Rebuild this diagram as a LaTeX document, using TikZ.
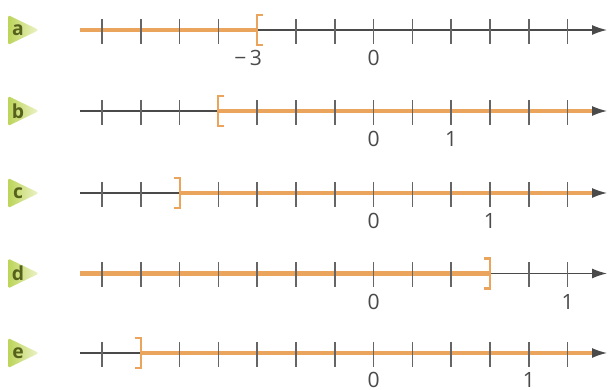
\documentclass[tikz,border=0pt]{standalone}
\usepackage{fontspec}
\setmainfont{Open Sans}
\usetikzlibrary{arrows.meta}
\definecolor{segorange}{HTML}{EBA45C}
\definecolor{badgedark}{HTML}{BCD45A}
\definecolor{badgelight}{HTML}{EDF3C8}
\definecolor{letterink}{HTML}{56621C}
\definecolor{axisink}{HTML}{4A4A4A}

\begin{document}
\begin{tikzpicture}[x=1cm,y=1cm,font=\fontsize{12}{14}\selectfont,
 axis/.style={-{Latex[length=3mm,width=2mm]},line width=.8pt,draw=axisink},
 seg/.style={line width=2.3pt,draw=segorange},
 tk/.style={line width=.8pt,draw=axisink!85},
 brk/.style={line width=1.2pt,draw=segorange},
 lab/.style={inner sep=1pt,text=axisink},
 letter/.style={font=\bfseries\fontsize{11}{13}\selectfont,text=letterink,inner sep=0pt}]
\useasboundingbox (0,0) rectangle (12.26,7.8);
% rows: badge, axis, tick positions
\foreach \r/\y in {a/7.2,b/5.58,c/3.94,d/2.33,e/0.74}{
 \shade[left color=badgedark,right color=badgelight,rounded corners=1pt]
  (0.16,\y+0.3) -- (0.78,\y) -- (0.16,\y-0.3) -- cycle;
 \node[letter] (let-\r) at (0.36,\y) {\r};
 \coordinate (\r-s) at (1.6,\y);
 \coordinate (\r-e) at (12.14,\y);
 \foreach \i in {0,...,12} \coordinate (\r-\i) at (2.04+0.776*\i,\y);
 \draw[axis] (\r-s) -- (\r-e);
}
% solution sets
\draw[seg] (a-s) -- (a-4);
\draw[seg] (b-3) -- ([xshift=-3mm]b-e);
\draw[seg] (c-2) -- ([xshift=-3mm]c-e);
\draw[seg] (d-s) -- (d-10);
\draw[seg] (e-1) -- ([xshift=-3mm]e-e);
\foreach \r in {a,b,c,d,e}
 \foreach \i in {0,...,12}
  \draw[tk] ([yshift=2.2mm]\r-\i) -- ([yshift=-2.8mm]\r-\i);
% brackets
\draw[brk] ([xshift=1.2mm,yshift=3mm]a-4) -- ([yshift=3mm]a-4) -- ([yshift=-3mm]a-4) -- ([xshift=1.2mm,yshift=-3mm]a-4);
\draw[brk] ([xshift=1.2mm,yshift=3mm]b-3) -- ([yshift=3mm]b-3) -- ([yshift=-3mm]b-3) -- ([xshift=1.2mm,yshift=-3mm]b-3);
\draw[brk] ([xshift=-1.2mm,yshift=3mm]c-2) -- ([yshift=3mm]c-2) -- ([yshift=-3mm]c-2) -- ([xshift=-1.2mm,yshift=-3mm]c-2);
\draw[brk] ([xshift=-1.2mm,yshift=3mm]d-10) -- ([yshift=3mm]d-10) -- ([yshift=-3mm]d-10) -- ([xshift=-1.2mm,yshift=-3mm]d-10);
\draw[brk] ([xshift=-1.2mm,yshift=3mm]e-1) -- ([yshift=3mm]e-1) -- ([yshift=-3mm]e-1) -- ([xshift=-1.2mm,yshift=-3mm]e-1);
% labels
\node[lab] (a-m3) at ([xshift=-1.8mm,yshift=-5.6mm]a-4) {−\,3};
\node[lab] (a-zero) at ([yshift=-5.6mm]a-7) {0};
\node[lab] (b-zero) at ([yshift=-5.6mm]b-7) {0};
\node[lab] (b-one) at ([yshift=-5.6mm]b-9) {1};
\node[lab] (c-zero) at ([yshift=-5.6mm]c-7) {0};
\node[lab] (c-one) at ([yshift=-5.6mm]c-10) {1};
\node[lab] (d-zero) at ([yshift=-5.6mm]d-7) {0};
\node[lab] (d-one) at ([yshift=-5.6mm]d-12) {1};
\node[lab] (e-zero) at ([yshift=-5.4mm]e-7) {0};
\node[lab] (e-one) at ([yshift=-5.4mm]e-11) {1};
\end{tikzpicture}
\end{document}
